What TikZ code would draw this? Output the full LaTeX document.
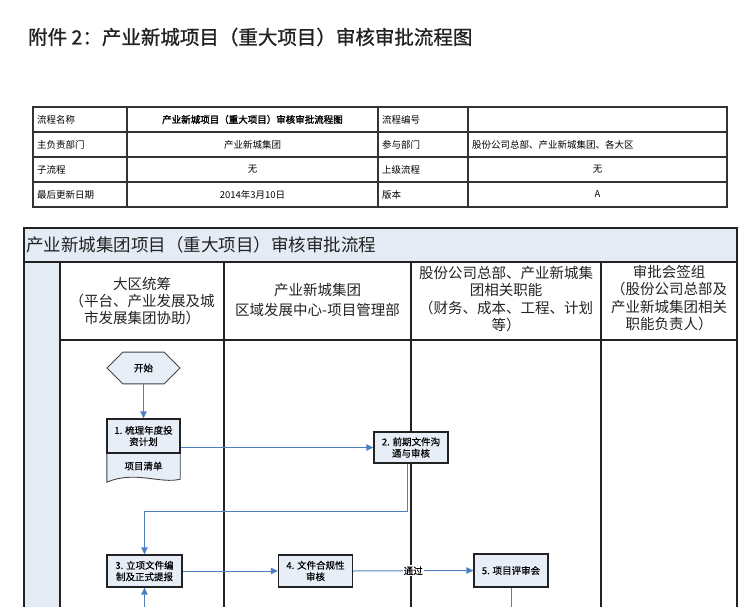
\documentclass[tikz,border=0pt]{standalone}
\usepackage{fontspec}
\setmainfont{Noto Sans CJK SC}[AutoFakeBold=2]
\newfontfamily\titlefont{Noto Sans CJK SC}[FakeBold=1.0]
\newfontfamily\nodefont{Noto Sans CJK SC}[FakeBold=0.4]
\usetikzlibrary{arrows.meta,shapes.misc,backgrounds,calc}
\definecolor{lblue}{HTML}{E5EBF5}
\definecolor{nblue}{HTML}{E8EEF8}
\definecolor{cblue}{HTML}{4F7FC2}
\definecolor{dk}{HTML}{222222}
\definecolor{tb}{HTML}{333333}
\tikzset{
  tcell/.style={font=\fontsize{9.5}{11}\selectfont, inner sep=0pt, text=black},
  lanehead/.style={font=\fontsize{14.5}{17.3}\selectfont, align=center, text=dk, inner sep=0pt},
  lanerule/.style={draw=dk, line width=1.4pt},
  tabrule/.style={draw=tb, line width=1.1pt},
  proc/.style={draw=dk, line width=1.3pt, fill=nblue, minimum width=74pt, minimum height=32pt,
    align=center, font=\nodefont\fontsize{9.5}{11.5}\selectfont, inner sep=1pt, text=black},
  conn/.style={draw=cblue, line width=1pt},
  arr/.style={conn, -{Triangle[length=7pt,width=6.5pt]}},
}
\begin{document}
\begin{tikzpicture}[x=1pt,y=-1pt]
\useasboundingbox (0,0) rectangle (752,607);

% title
\node[anchor=west, font=\titlefont\fontsize{19.5}{22}\selectfont, text=dk, inner sep=0pt] (title) at (28,37)
  {附件 2：产业新城项目（重大项目）审核审批流程图};

% info table
\draw[tabrule] (33,107) rectangle (727,207);
\foreach \yy in {132,157,182} \draw[tabrule] (33,\yy) -- (727,\yy);
\foreach \xx in {127,378,468} \draw[tabrule] (\xx,107) -- (\xx,207);

\node[tcell, anchor=west] (a1) at (37,119.5) {流程名称};
\node[tcell, font=\fontsize{9.5}{11}\selectfont\bfseries] (b1) at (252.5,119.5) {产业新城项目（重大项目）审核审批流程图};
\node[tcell, anchor=west] (c1) at (382,119.5) {流程编号};

\node[tcell, anchor=west] (a2) at (37,144.5) {主负责部门};
\node[tcell] (b2) at (252.5,144.5) {产业新城集团};
\node[tcell, anchor=west] (c2) at (382,144.5) {参与部门};
\node[tcell, anchor=west] (d2) at (472,144.5) {股份公司总部、产业新城集团、各大区};

\node[tcell, anchor=west] (a3) at (37,169.5) {子流程};
\node[tcell] (b3) at (252.5,169.5) {无};
\node[tcell, anchor=west] (c3) at (382,169.5) {上级流程};
\node[tcell] (d3) at (597.5,169.5) {无};

\node[tcell, anchor=west] (a4) at (37,194.5) {最后更新日期};
\node[tcell] (b4) at (252.5,194.5) {2014年3月10日};
\node[tcell, anchor=west] (c4) at (382,194.5) {版本};
\node[tcell] (d4) at (597.5,194.5) {A};

% swimlane frame
\fill[lblue] (24,228) rectangle (737,262);
\fill[lblue] (24,262) rectangle (60,607);
\draw[lanerule] (24,607) -- (24,228) -- (737,228) -- (737,607);
\draw[lanerule] (24,262) -- (737,262);
\draw[lanerule] (60,340) -- (737,340);
\foreach \xx in {60,224,411,601} \draw[lanerule] (\xx,262) -- (\xx,607);

\node[anchor=west, font=\fontsize{17.5}{20}\selectfont, text=dk, inner sep=0pt] (swt) at (26,245)
  {产业新城集团项目（重大项目）审核审批流程};

\node[lanehead] (h1) at (142,301) {大区统筹\\（平台、产业发展及城\\市发展集团协助）};
\node[lanehead, font=\fontsize{14.5}{20}\selectfont] (h2) at (317.5,300) {产业新城集团\\区域发展中心-项目管理部};
\node[lanehead] (h3) at (506,299) {股份公司总部、产业新城集\\团相关职能\\（财务、成本、工程、计划\\等）};
\node[lanehead] (h4) at (669,298) {审批会签组\\（股份公司总部及\\产业新城集团相关\\职能负责人）};

% flow nodes
\node[chamfered rectangle, chamfered rectangle xsep=10pt, chamfered rectangle ysep=14pt,
  draw=dk!85, line width=0.9pt, fill=nblue, minimum width=73pt, minimum height=28pt,
  inner sep=1pt, font=\nodefont\fontsize{9.5}{11.5}\selectfont] (start) at (143.5,368) {开始};

\node[proc, minimum width=73pt, minimum height=34pt] (n1) at (143.5,436) {1. 梳理年度投\\资计划};
\node[minimum width=73pt, minimum height=26pt, inner sep=0pt, font=\nodefont\fontsize{9.5}{11.5}\selectfont] (doc) at (143.5,466) {项目清单};
\begin{pgfonlayer}{background}
\draw[draw=dk!85, line width=0.9pt, fill=nblue]
  (doc.north west) -- (doc.north east) -- (doc.south east)
  .. controls +(-20,5) and +(28,-12) .. ([yshift=-3pt]doc.south west) -- cycle;
\end{pgfonlayer}
\draw[dk, line width=1.3pt] (doc.north west) -- (doc.north east);

\node[proc, minimum height=31pt] (n2) at (411,447.5) {2. 前期文件沟\\通与审核};
\node[proc, minimum width=75pt] (n3) at (144.5,571) {3. 立项文件编\\制及正式提报};
\node[proc] (n4) at (315.5,571) {4. 文件合规性\\审核};
\node[proc, minimum height=33pt] (n5) at (511,570.5) {5. 项目评审会};

\coordinate (bot) at (0,607);

% connectors
\draw[arr] (start.south) -- (n1.north);
\draw[arr] (n2.west -| n1.east) -- (n2.west);
\draw[arr] ([xshift=-4pt]n2.south) -- ++(0,48) -| (n3.north);
\draw[arr] (n3.east) -- (n4.west);
\draw[arr] (n4.east) -- node[fill=white, inner sep=1pt, font=\nodefont\fontsize{9.5}{11}\selectfont] (lbl) {通过} (n5.west);
\draw[conn] (n5.south) -- (n5.south |- bot);
\draw[arr] (n3.south |- bot) -- (n3.south);
\end{tikzpicture}
\end{document}
